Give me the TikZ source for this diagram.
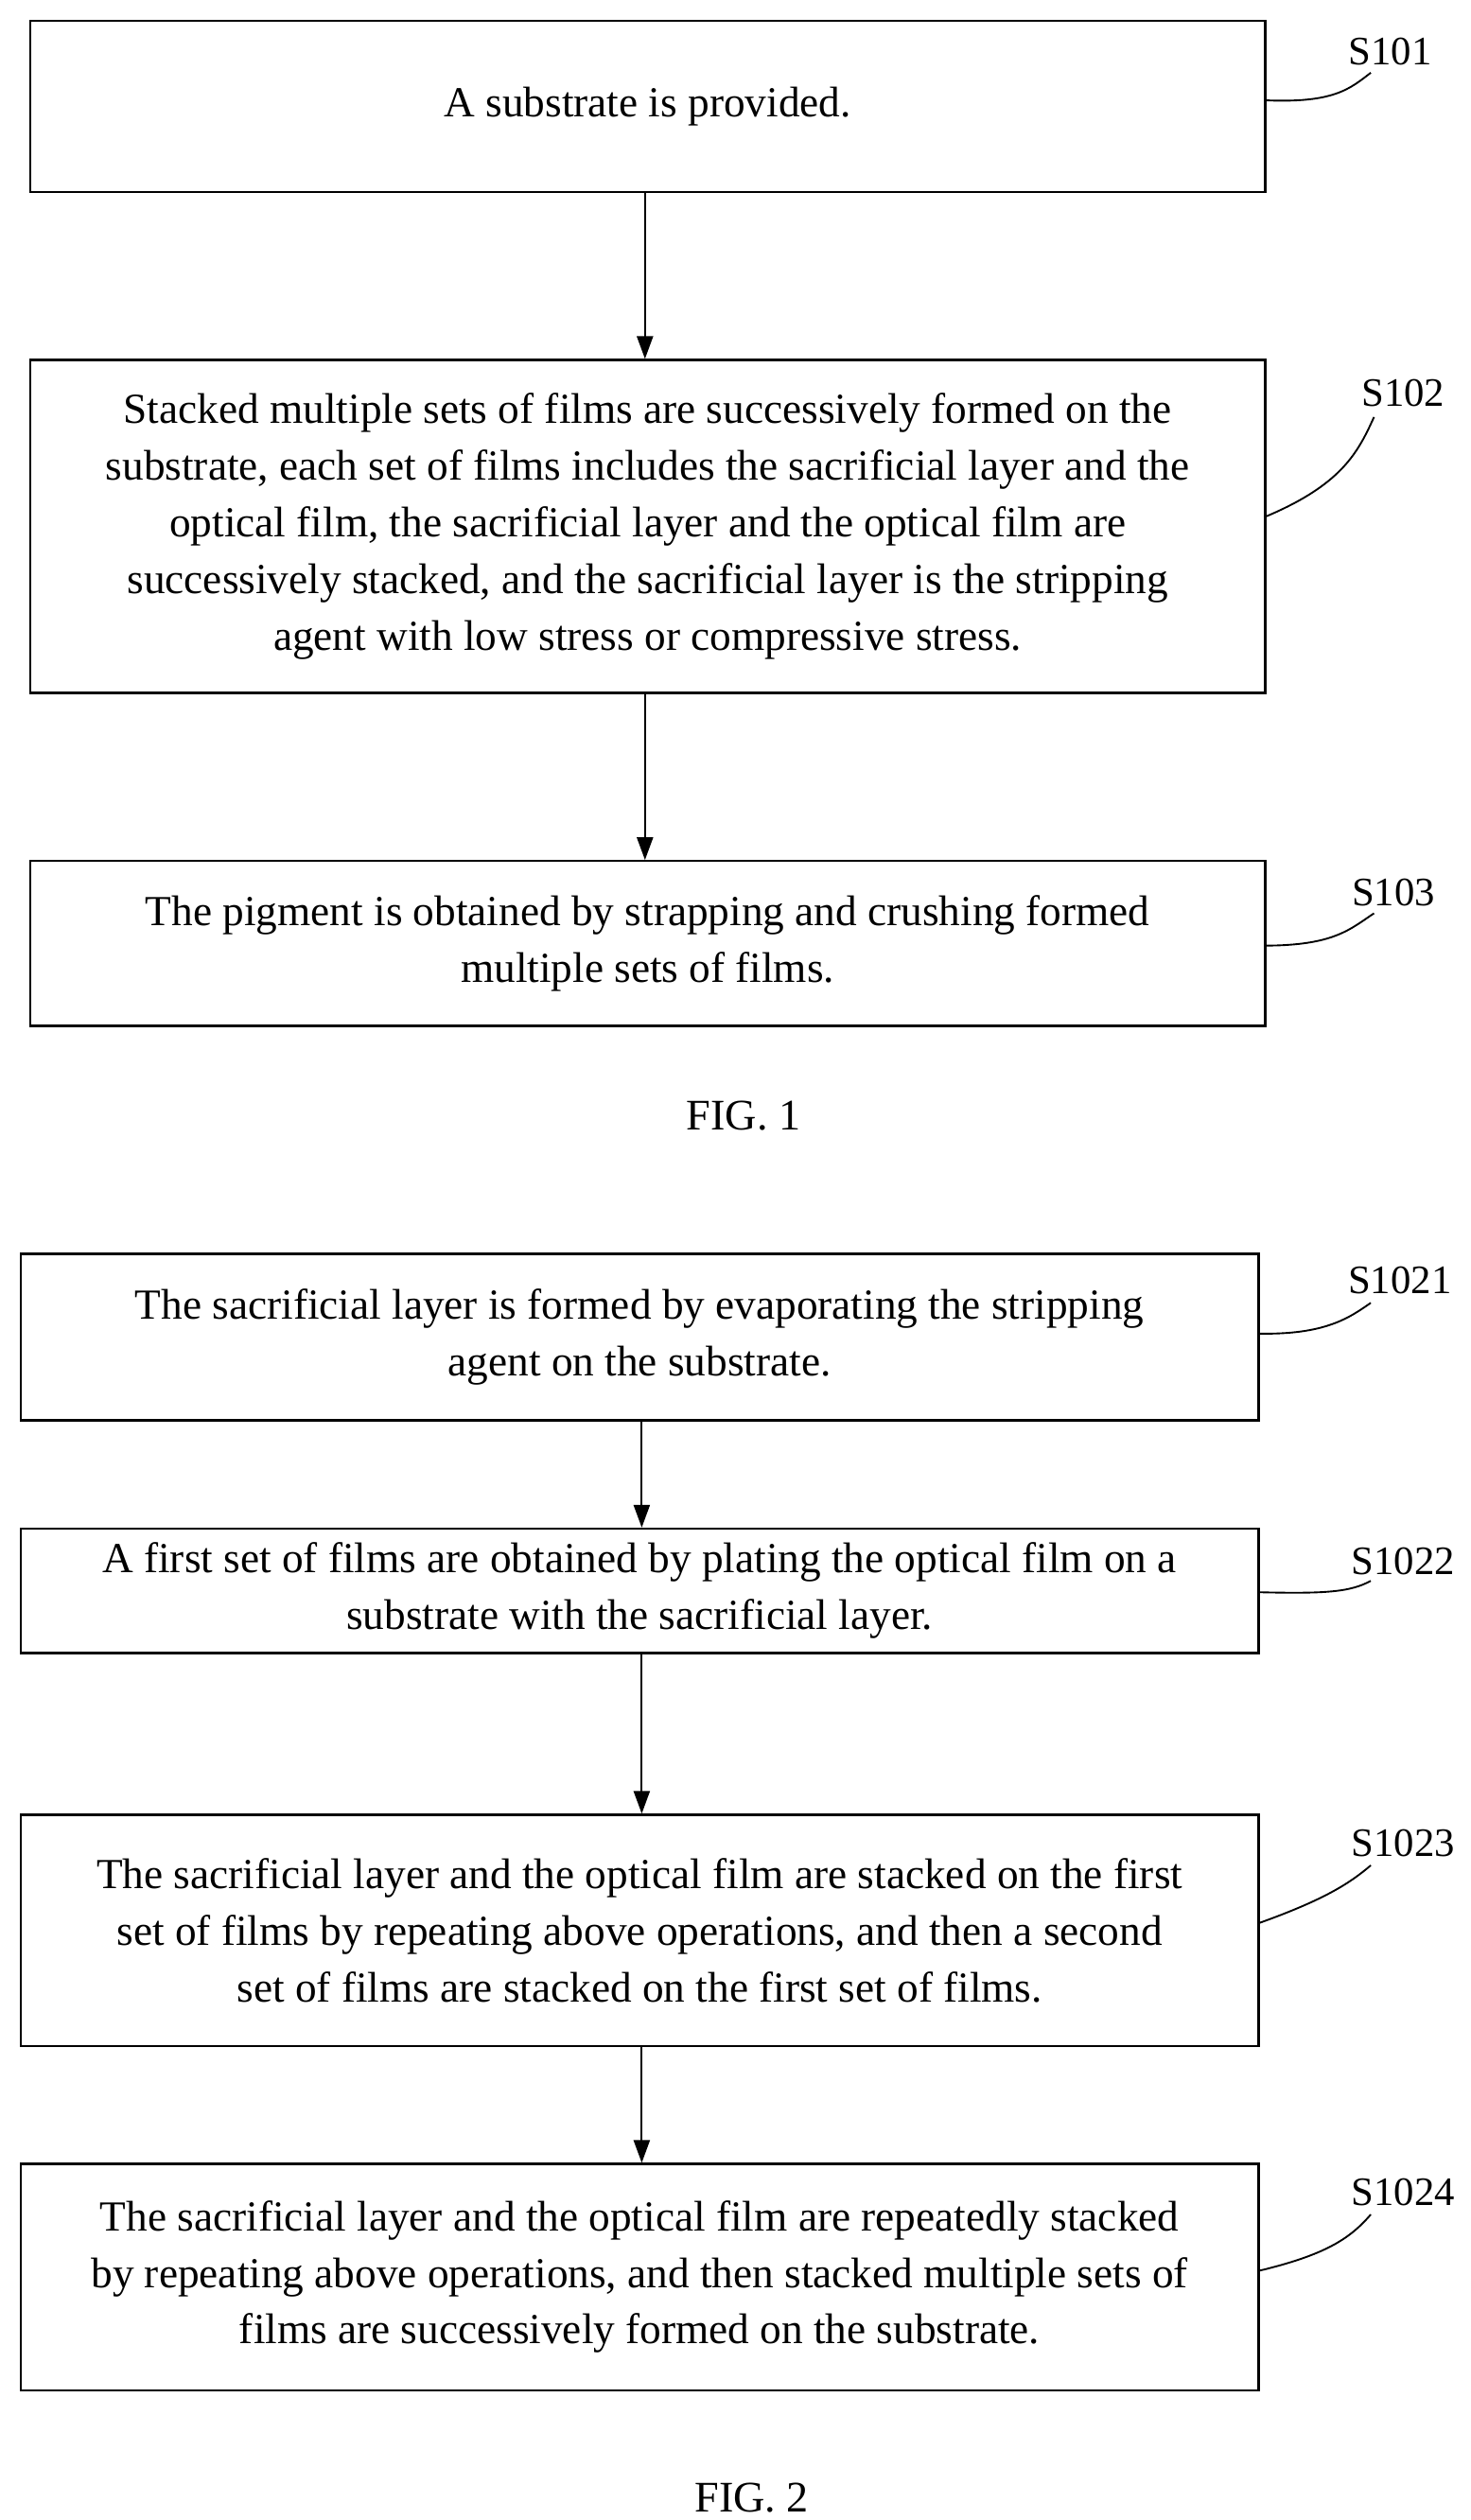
\documentclass[tikz,border=0pt]{standalone}
\usepackage{fontspec}
\setmainfont{Liberation Serif}
\usetikzlibrary{arrows.meta}
\begin{document}
\begin{tikzpicture}[x=1pt,y=-1pt,
 box/.style={draw,line width=1.3pt,minimum width=764pt,anchor=north west,align=center,font=\fontsize{26.5}{35}\selectfont,inner sep=0pt},
 lab/.style={font=\fontsize{25}{30}\selectfont},
 arr/.style={line width=1.1pt,-{Triangle[length=14pt,width=10pt]}},
 lead/.style={line width=1.1pt}]
\useasboundingbox (0,0) rectangle (910,1559);
\node[box,minimum height=106pt] (b1) at (18,12) {A substrate is provided.};
\node[box,minimum height=206pt] (b2) at (18,222) {Stacked multiple sets of films are successively formed on the\\ substrate, each set of films includes the sacrificial layer and the\\ optical film, the sacrificial layer and the optical film are\\ successively stacked, and the sacrificial layer is the stripping\\ agent with low stress or compressive stress.};
\node[box,minimum height=102pt] (b3) at (18,532) {The pigment is obtained by strapping and crushing formed\\ multiple sets of films.};
\node[font=\fontsize{27}{30}\selectfont] (f1) at (460,690) {FIG. 1};
\node[box,minimum width=766pt,minimum height=103pt] (b4) at (12,775) {The sacrificial layer is formed by evaporating the stripping\\ agent on the substrate.};
\node[box,minimum width=766pt,minimum height=77pt] (b5) at (12,945) {A first set of films are obtained by plating the optical film on a\\ substrate with the sacrificial layer.};
\node[box,minimum width=766pt,minimum height=143pt] (b6) at (12,1122) {The sacrificial layer and the optical film are stacked on the first\\ set of films by repeating above operations, and then a second\\ set of films are stacked on the first set of films.};
\node[box,minimum width=766pt,minimum height=140pt] (b7) at (12,1338) {The sacrificial layer and the optical film are repeatedly stacked\\ by repeating above operations, and then stacked multiple sets of\\ films are successively formed on the substrate.};
\node[font=\fontsize{27}{30}\selectfont] (f2) at (465,1545) {FIG. 2};
\draw[arr] (b1.south -| 399,0) -- (b2.north -| 399,0);
\draw[arr] (b2.south -| 399,0) -- (b3.north -| 399,0);
\draw[arr] (b4.south -| 397,0) -- (b5.north -| 397,0);
\draw[arr] (b5.south -| 397,0) -- (b6.north -| 397,0);
\draw[arr] (b6.south -| 397,0) -- (b7.north -| 397,0);
\node[lab] (l1) at (860,32) {S101};
\node[lab] (l2) at (868,243) {S102};
\node[lab] (l3) at (862,552) {S103};
\node[lab] (l4) at (866,792) {S1021};
\node[lab] (l5) at (868,966) {S1022};
\node[lab] (l6) at (868,1140) {S1023};
\node[lab] (l7) at (868,1356) {S1024};
\draw[lead] (782,62) .. controls (825,64) and (835,55) .. (848,45);
\draw[lead] (782,320) .. controls (830,300) and (840,280) .. (850,258);
\draw[lead] (782,585) .. controls (825,585) and (835,575) .. (850,565);
\draw[lead] (778,825) .. controls (820,826) and (835,815) .. (848,806);
\draw[lead] (778,985) .. controls (820,986) and (835,985) .. (848,978);
\draw[lead] (778,1190) .. controls (820,1175) and (835,1165) .. (848,1154);
\draw[lead] (778,1405) .. controls (820,1395) and (835,1385) .. (848,1370);
\end{tikzpicture}
\end{document}
